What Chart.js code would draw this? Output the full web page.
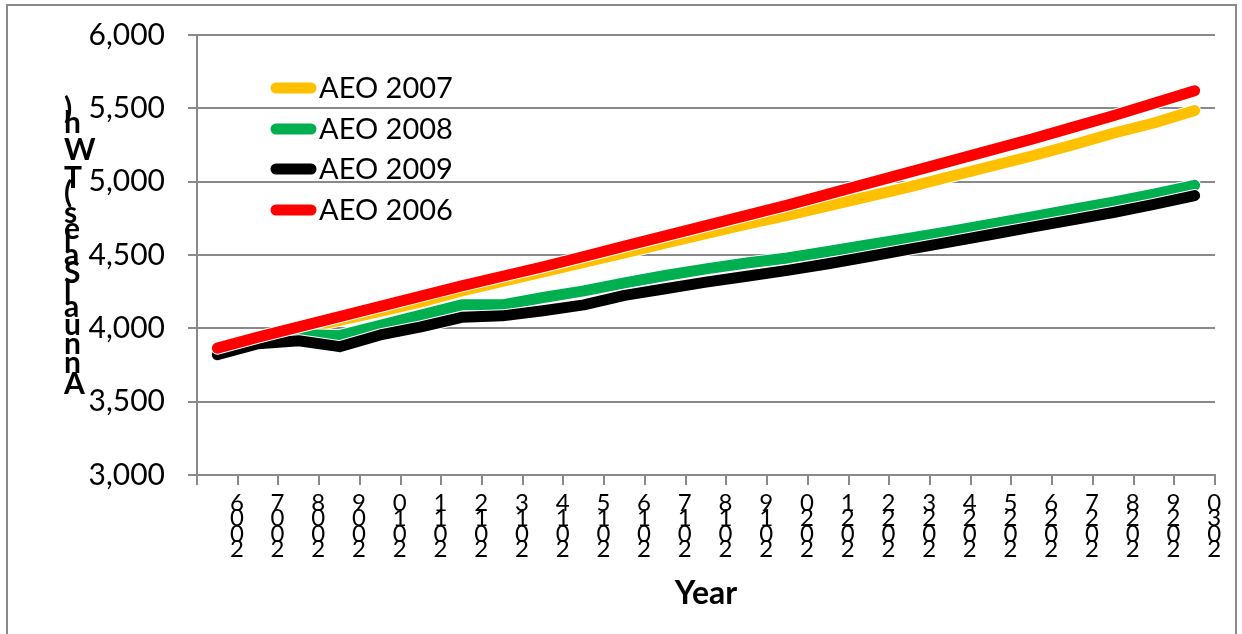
<!DOCTYPE html>
<html>
<head>
<meta charset="utf-8">
<title>Annual Sales (TWh)</title>
<script src="https://cdn.jsdelivr.net/npm/chart.js@4.4.1/dist/chart.umd.min.js"></script>
<style>
    html, body { margin: 0; padding: 0; background: #fff; }
    #wrap { width: 1242px; height: 634px; }
</style>
</head>
<body>
<div id="wrap"><canvas id="sales-chart" width="1242" height="634"></canvas></div>
<script>
// Chart data
const years = ['2006', '2007', '2008', '2009', '2010', '2011', '2012', '2013', '2014', '2015',
    '2016', '2017', '2018', '2019', '2020', '2021', '2022', '2023', '2024', '2025',
    '2026', '2027', '2028', '2029', '2030'];

const aeo2007 = [3860, 3930, 3995, 4055, 4115, 4180, 4255, 4320, 4385, 4450,
    4515, 4580, 4645, 4710, 4770, 4835, 4900, 4965, 5035, 5105,
    5175, 5250, 5330, 5400, 5485];
const aeo2008 = [3815, 3905, 3960, 3950, 4020, 4090, 4160, 4160, 4210, 4255,
    4310, 4360, 4405, 4445, 4480, 4525, 4570, 4615, 4660, 4710,
    4760, 4810, 4860, 4915, 4975];
const aeo2009 = [3820, 3895, 3915, 3875, 3955, 4010, 4075, 4085, 4120, 4160,
    4225, 4270, 4315, 4355, 4395, 4440, 4490, 4540, 4590, 4640,
    4690, 4740, 4790, 4845, 4905];
const aeo2006 = [3865, 3940, 4010, 4080, 4150, 4220, 4290, 4355, 4420, 4490,
    4560, 4630, 4700, 4770, 4840, 4915, 4990, 5065, 5140, 5215,
    5290, 5370, 5450, 5535, 5620];

const seriesNames = ['AEO 2007', 'AEO 2008', 'AEO 2009', 'AEO 2006'];
const seriesColors = ['#FFC000', '#00B050', '#000000', '#FF0000'];
const yTickValues = [3000, 3500, 4000, 4500, 5000, 5500, 6000];
const xTitle = 'Year';
const yTitle = 'Annual Sales (TWh)';

const gridGray = '#898989';

// Outer frame, stacked axis title, legend
const decorPlugin = {
    id: 'decor',
    beforeDraw(chart) {
        const ctx = chart.ctx;
        ctx.save();
        ctx.strokeStyle = gridGray;
        ctx.lineWidth = 2;
        ctx.strokeRect(7, 5, 1229, 640);
        ctx.restore();
    },
    // thin white edge under each series line
    beforeDatasetDraw(chart, args) {
        const pts = args.meta.data;
        const ctx = chart.ctx;
        ctx.save();
        ctx.strokeStyle = '#fff';
        ctx.lineWidth = 13;
        ctx.lineCap = 'round';
        ctx.lineJoin = 'round';
        ctx.beginPath();
        pts.forEach((p, i) => i ? ctx.lineTo(p.x, p.y) : ctx.moveTo(p.x, p.y));
        ctx.stroke();
        ctx.restore();
    },
    afterDraw(chart) {
        const ctx = chart.ctx;
        ctx.save();

        // x axis title
        ctx.fillStyle = '#000';
        ctx.font = 'bold 32px Lato';
        ctx.textAlign = 'center';
        ctx.textBaseline = 'middle';
        const area = chart.chartArea;
        ctx.fillText(xTitle, (area.left + area.right) / 2, 594);

        // y axis title: characters upright, stacked bottom to top
        ctx.font = 'bold 30px Lato';
        ctx.textAlign = 'left';
        const chars = [...yTitle];
        const adv = chars.map(c => ctx.measureText(c).width);
        const total = adv.reduce((a, b) => a + b, 0);
        const k = 291 / total;
        let cum = 0;
        chars.forEach((c, i) => {
            const y = 396 - k * (cum + adv[i] / 2);
            ctx.fillText(c, 64, y);
            cum += adv[i];
        });

        // legend
        ctx.font = '29px Lato';
        ctx.lineCap = 'round';
        ctx.lineWidth = 11;
        const rows = [88, 129, 169, 210];
        seriesNames.forEach((name, i) => {
            ctx.strokeStyle = seriesColors[i];
            ctx.beginPath();
            ctx.moveTo(276, rows[i]);
            ctx.lineTo(311, rows[i]);
            ctx.stroke();
            ctx.fillText(name, 319, rows[i] + 1);
        });
        ctx.restore();
    }
};

const allSeries = [aeo2007, aeo2008, aeo2009, aeo2006];
const drawOrder = [4, 3, 2, 1]; // AEO 2006 drawn on top, like the original

const ctx = document.getElementById('sales-chart').getContext('2d');
const salesChart = new Chart(ctx, {
    type: 'line',
    data: {
        labels: years,
        datasets: allSeries.map((values, i) => ({
            label: seriesNames[i],
            data: values,
            borderColor: seriesColors[i],
            backgroundColor: seriesColors[i],
            borderWidth: 11,
            borderCapStyle: 'round',
            borderJoinStyle: 'round',
            pointRadius: 0,
            tension: 0,
            order: drawOrder[i]
        }))
    },
    options: {
        responsive: false,
        animation: false,
        devicePixelRatio: 1,
        layout: {
            padding: { left: 0, right: 27, top: 35, bottom: 0 }
        },
        plugins: {
            legend: { display: false },
            tooltip: { enabled: false }
        },
        scales: {
            x: {
                offset: true,
                grid: {
                    offset: true,
                    drawOnChartArea: false,
                    drawTicks: true,
                    tickLength: 10,
                    color: gridGray,
                    lineWidth: 2
                },
                border: { display: true, color: gridGray, width: 2 },
                ticks: {
                    autoSkip: false,
                    maxRotation: 0,
                    minRotation: 0,
                    labelOffset: 19.5,
                    padding: 10,
                    color: '#000',
                    font: { family: 'Lato', size: 24, lineHeight: 0.65 },
                    // years written as stacked digits, last digit on top
                    callback: function (value) {
                        return [...this.getLabelForValue(value)].reverse();
                    }
                },
                afterFit: scale => {
                    scale.height = 159;
                    scale.paddingLeft = 0;
                    scale.paddingRight = 0;
                }
            },
            y: {
                min: 3000,
                max: 6000,
                afterBuildTicks: scale => {
                    scale.ticks = yTickValues.map(v => ({ value: v }));
                },
                grid: {
                    color: gridGray,
                    lineWidth: 2,
                    drawTicks: true,
                    tickLength: 9
                },
                border: { display: true, color: gridGray, width: 2 },
                ticks: {
                    padding: 23,
                    color: '#000',
                    font: { family: 'Lato', size: 30 },
                    callback: value => value.toLocaleString('en-US')
                },
                afterFit: scale => {
                    scale.width = 197;
                    scale.paddingTop = 0;
                    scale.paddingBottom = 0;
                }
            }
        }
    },
    plugins: [decorPlugin]
});
</script>
</body>
</html>
